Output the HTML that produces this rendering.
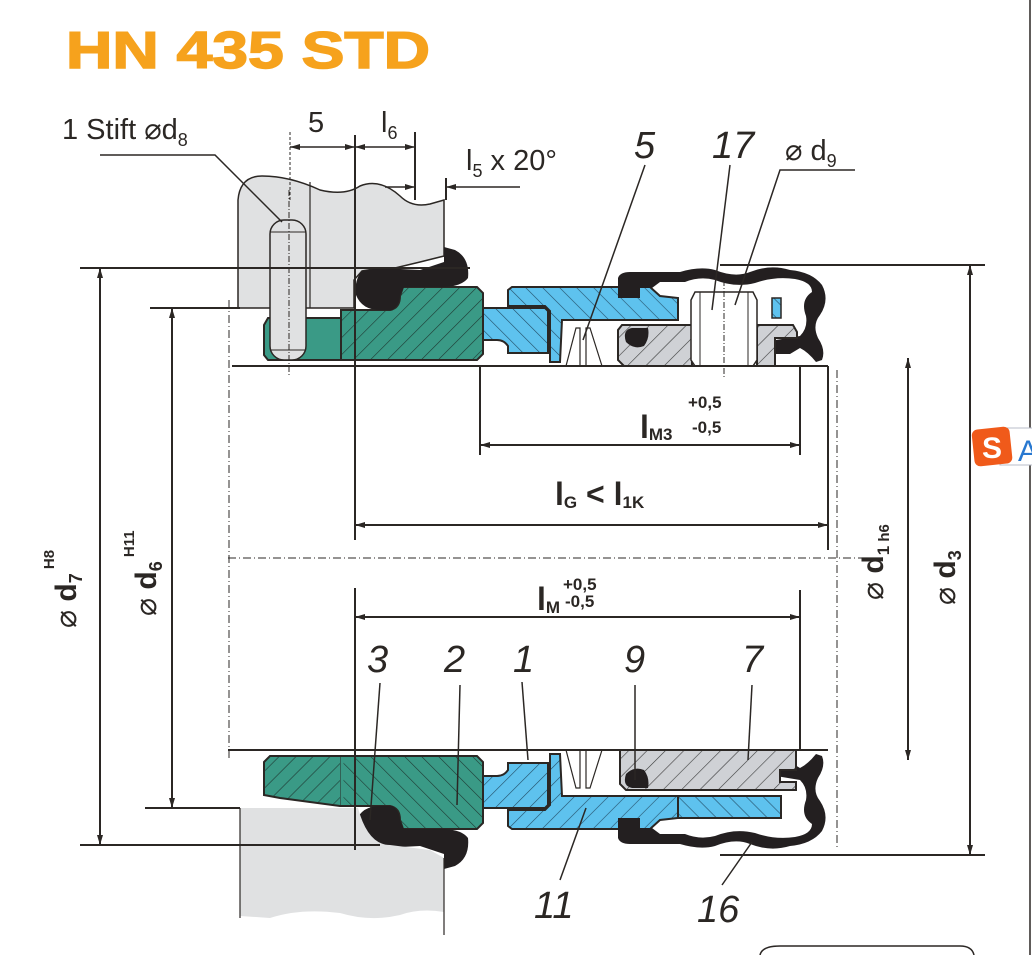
<!DOCTYPE html>
<html><head><meta charset="utf-8"><style>
html,body{margin:0;padding:0;background:#fff;}
svg{display:block;}
text{font-family:"Liberation Sans",sans-serif;fill:#2b2724;}
</style></head><body>
<svg width="1032" height="955" viewBox="0 0 1032 955" xmlns="http://www.w3.org/2000/svg">
<defs>
<pattern id="hg" patternUnits="userSpaceOnUse" width="12" height="12" patternTransform="rotate(45)">
<rect width="12" height="12" fill="#3a9a86"/><line x1="0" y1="0" x2="0" y2="12" stroke="#1f3c35" stroke-width="1.2"/></pattern>
<pattern id="hb" patternUnits="userSpaceOnUse" width="12" height="12" patternTransform="rotate(-45)">
<rect width="12" height="12" fill="#5ec2ee"/><line x1="0" y1="0" x2="0" y2="12" stroke="#24506a" stroke-width="1.2"/></pattern>
<pattern id="hs" patternUnits="userSpaceOnUse" width="13" height="13" patternTransform="rotate(45)">
<rect width="13" height="13" fill="#cfd1d5"/><line x1="0" y1="0" x2="0" y2="13" stroke="#3a3a3a" stroke-width="1.2"/></pattern>
<marker id="ar" viewBox="0 0 10 6" refX="10" refY="3" markerWidth="16" markerHeight="6" markerUnits="userSpaceOnUse" orient="auto-start-reverse"><path d="M0,0 L10,3 L0,6 z" fill="#2b2724"/></marker>
<g id="common">
<path d="M341,310 L390,310 Q400,308 400,296 L403,287 L477,287 L483,293 L483,354 L477,360 L341,360 Z" fill="url(#hg)" stroke="#2b2724" stroke-width="2"/>
<path d="M362,271 Q354,280 356,295 Q362,310 380,310 L392,310 Q400,305 400,295 L404,287 L445,287 Q462,286 468,278 Q470,258 455,250 L444,247 L444,262 L420,270 L380,268 Z" fill="#231f20"/>
<path d="M483,308 L545,308 L548,311 L548,353 L508,353 L508,346 Q504,340 497,340 L483,340 Z" fill="url(#hb)" stroke="#2b2724" stroke-width="2"/>
<path d="M508,290 L512,287 L650,287 L660,296 L678,298 L678,320 L562,320 L560,362 L550,362 L550,311 L545,306 L508,306 Z" fill="url(#hb)" stroke="#2b2724" stroke-width="2"/>
<path d="M566,366 L576,328 L580,328 L580,366 M586,366 L586,328 L590,328 L602,366" fill="none" stroke="#2b2724" stroke-width="1.2"/>
<path d="M618,278 Q620,272 630,272 L680,272 Q700,266 715,270 Q735,278 750,272 Q770,264 790,270 Q812,272 822,285 Q830,300 820,315 Q812,325 818,338 Q826,350 822,360 L816,362 Q808,352 800,348 L790,354 L776,354 L776,340 L800,336 Q808,328 806,316 Q800,300 812,292 Q812,282 795,279 Q775,276 755,283 Q735,288 715,280 Q700,276 685,282 L660,282 L652,288 L640,288 L640,298 L618,298 Z" fill="#231f20"/>
</g>
</defs>

<text x="66" y="68" font-size="52" font-weight="bold" style="fill:#f6a21d;stroke:#f6a21d;stroke-width:1.5" textLength="364" lengthAdjust="spacingAndGlyphs">HN 435 STD</text>

<path d="M238,308 L238,200 Q240,176 262,176 Q290,176 320,190 Q345,196 360,186 Q380,178 400,196 Q412,208 430,204 L444,200 L444,256 L420,262 L395,268 L380,268 L362,271 L354,280 L354,308 Z" fill="#e0e1e2" stroke="#2b2724" stroke-width="1.5"/>
<line x1="310" y1="182" x2="310" y2="308" stroke="#2b2724" stroke-width="1.2"/>

<path d="M264,325 L268,318 L341,318 L341,360 L268,360 L264,355 Z" fill="#3a9a86" stroke="#2b2724" stroke-width="2"/>
<use href="#common"/>
<rect x="270" y="220" width="36" height="140" rx="14" fill="#e0e1e2" stroke="#2b2724" stroke-width="1.5"/>
<line x1="270" y1="232" x2="306" y2="232" stroke="#2b2724" stroke-width="1"/>
<line x1="270" y1="350" x2="306" y2="350" stroke="#2b2724" stroke-width="1"/>
<line x1="289" y1="190" x2="289" y2="375" stroke="#2b2724" stroke-width="1" stroke-dasharray="6,2,1,2"/>
<rect x="772" y="298" width="9" height="20" fill="url(#hb)" stroke="#2b2724" stroke-width="1.5"/>
<path d="M622,325 L692,325 L692,366 L624,366 L618,360 L618,330 Z" fill="url(#hs)" stroke="#2b2724" stroke-width="2"/>
<path d="M757,325 L793,325 L797,332 L797,338 L775,338 L775,366 L757,366 Z" fill="url(#hs)" stroke="#2b2724" stroke-width="2"/>
<path d="M632,328 Q622,330 626,342 Q634,350 644,346 Q650,338 648,328 Z" fill="#231f20"/>
<path d="M695,292 L753,292 L757,300 L757,360 L753,366 L695,366 L691,360 L691,300 Z" fill="#fff" stroke="#2b2724" stroke-width="1.5"/>
<line x1="700" y1="292" x2="700" y2="366" stroke="#2b2724"/><line x1="748" y1="292" x2="748" y2="366" stroke="#2b2724"/>
<line x1="724" y1="280" x2="724" y2="378" stroke="#2b2724" stroke-dasharray="6,2,1,2"/>

<path d="M264,762 L270,756 L360,756 L360,806 L340,806 L280,798 L264,795 Z" fill="url(#hg)" stroke="#2b2724" stroke-width="2"/>
<path d="M560,796 L781,796 L781,818 L560,818 Z" fill="url(#hb)" stroke="#2b2724" stroke-width="2"/>
<g transform="translate(0,1116) scale(1,-1)"><use href="#common"/></g>
<line x1="342" y1="757" x2="342" y2="805" stroke="#3a9a86" stroke-width="3"/>
<path d="M620,750 L796,750 L796,770 L780,770 L780,782 L796,782 L796,790 L626,790 L620,784 Z" fill="url(#hs)" stroke="#2b2724" stroke-width="2"/>
<path d="M632,788 Q622,786 626,774 Q634,766 644,770 Q650,778 648,788 Z" fill="#231f20"/>
<path d="M240,808 L358,808 Q368,845 390,845 L430,850 L444,858 L444,912 Q420,908 400,915 Q370,922 340,913 Q300,908 270,918 L240,916 Z" fill="#e0e1e2"/>
<line x1="240" y1="808" x2="240" y2="918" stroke="#2b2724" stroke-width="1.2"/>
<line x1="444" y1="858" x2="444" y2="935" stroke="#2b2724" stroke-width="1.2"/>

<g stroke="#2b2724" stroke-width="2">
<line x1="232" y1="366" x2="828" y2="366"/>
<line x1="228" y1="750" x2="828" y2="750"/>
<line x1="80" y1="268" x2="470" y2="268"/>
<line x1="150" y1="308" x2="240" y2="308"/>
<line x1="145" y1="808" x2="240" y2="808"/>
<line x1="80" y1="845" x2="380" y2="845"/>
<line x1="720" y1="265" x2="985" y2="265"/>
<line x1="720" y1="855" x2="985" y2="855"/>
</g>
<g stroke="#2b2724" stroke-width="1" stroke-dasharray="8,3,1,3">
<line x1="228" y1="558" x2="870" y2="558"/>
<line x1="229" y1="300" x2="229" y2="760"/>
<line x1="837" y1="370" x2="837" y2="850"/>
</g>
<g stroke="#2b2724" stroke-width="2">
<line x1="355" y1="135" x2="355" y2="540"/>
<line x1="355" y1="588" x2="355" y2="850"/>
<line x1="415" y1="132" x2="415" y2="200"/>
<line x1="446" y1="178" x2="446" y2="200"/>
<line x1="480" y1="366" x2="480" y2="455"/>
<line x1="800" y1="366" x2="800" y2="455"/>
<line x1="800" y1="590" x2="800" y2="750"/>
<line x1="828" y1="366" x2="828" y2="550"/>
<line x1="1030" y1="0" x2="1030" y2="955" stroke-width="1.5"/>
</g>
<g stroke="#2b2724" stroke-width="1.5" fill="none">
<line x1="290" y1="132" x2="290" y2="200" stroke-dasharray="3,2" stroke-width="1"/>
<line x1="290" y1="147" x2="355" y2="147" marker-start="url(#ar)" marker-end="url(#ar)"/>
<line x1="355" y1="147" x2="415" y2="147" marker-start="url(#ar)" marker-end="url(#ar)"/>
<line x1="385" y1="187" x2="415" y2="187" marker-end="url(#ar)"/>
<line x1="520" y1="187" x2="446" y2="187" marker-end="url(#ar)"/>
<line x1="480" y1="445" x2="800" y2="445" stroke-width="2" marker-start="url(#ar)" marker-end="url(#ar)"/>
<line x1="355" y1="525" x2="828" y2="525" stroke-width="2" marker-start="url(#ar)" marker-end="url(#ar)"/>
<line x1="355" y1="617" x2="800" y2="617" stroke-width="2" marker-start="url(#ar)" marker-end="url(#ar)"/>
<line x1="100" y1="268" x2="100" y2="845" stroke-width="2" marker-start="url(#ar)" marker-end="url(#ar)"/>
<line x1="172" y1="308" x2="172" y2="808" stroke-width="2" marker-start="url(#ar)" marker-end="url(#ar)"/>
<line x1="908" y1="358" x2="908" y2="760" stroke-width="2" marker-start="url(#ar)" marker-end="url(#ar)"/>
<line x1="970" y1="265" x2="970" y2="855" stroke-width="2" marker-start="url(#ar)" marker-end="url(#ar)"/>
<polyline points="100,155 215,155 282,222"/>
<line x1="645" y1="165" x2="583" y2="340"/>
<line x1="730" y1="165" x2="712" y2="310"/>
<polyline points="855,170 780,170 735,305"/>
<line x1="380" y1="683" x2="370" y2="820"/>
<line x1="460" y1="685" x2="457" y2="805"/>
<line x1="522" y1="682" x2="528" y2="760"/>
<line x1="635" y1="685" x2="635" y2="780"/>
<line x1="752" y1="685" x2="748" y2="760"/>
<line x1="560" y1="880" x2="586" y2="808"/>
<line x1="722" y1="885" x2="752" y2="842"/>
</g>

<g font-size="29">
<text x="62" y="139">1 Stift ⌀d<tspan font-size="18" dy="7">8</tspan></text>
<text x="308" y="132">5</text>
<text x="381" y="132">l<tspan font-size="18" dy="7">6</tspan></text>
<text x="466" y="170">l<tspan font-size="18" dy="7">5</tspan><tspan dy="-7"> x 20°</tspan></text>
<text x="785" y="160">⌀ d<tspan font-size="18" dy="7">9</tspan></text>
</g>
<g font-size="38" font-style="italic">
<text x="634" y="158">5</text>
<text x="712" y="158">17</text>
<text x="367" y="672">3</text>
<text x="444" y="672">2</text>
<text x="513" y="672">1</text>
<text x="624" y="672">9</text>
<text x="742" y="672">7</text>
<text x="534" y="918">11</text>
<text x="697" y="922">16</text>
</g>
<g font-weight="bold">
<text x="640" y="438" font-size="32">l<tspan font-size="17" dy="2">M3</tspan></text>
<text x="688" y="408" font-size="17">+0,5</text>
<text x="692" y="433" font-size="17">-0,5</text>
<text x="555" y="505" font-size="32">l<tspan font-size="17" dy="3">G</tspan><tspan dy="-3"> &lt; l</tspan><tspan font-size="17" dy="3">1K</tspan></text>
<text x="537" y="610" font-size="32">l<tspan font-size="17" dy="3">M</tspan></text>
<text x="563" y="590" font-size="17">+0,5</text>
<text x="565" y="607" font-size="17">-0,5</text>
</g>
<g font-weight="bold">
<text transform="translate(76,628) rotate(-90)" font-size="30"><tspan font-weight="normal">⌀</tspan> d<tspan font-size="18" dy="6">7</tspan><tspan font-size="15" dy="-28"> H8</tspan></text>
<text transform="translate(156,616) rotate(-90)" font-size="30"><tspan font-weight="normal">⌀</tspan> d<tspan font-size="18" dy="6">6</tspan><tspan font-size="15" dy="-28"> H11</tspan></text>
<text transform="translate(883,600) rotate(-90)" font-size="30"><tspan font-weight="normal">⌀</tspan> d<tspan font-size="17" dy="6">1</tspan><tspan font-size="15" dy="0"> h6</tspan></text>
<text transform="translate(955,605) rotate(-90)" font-size="30"><tspan font-weight="normal">⌀</tspan> d<tspan font-size="18" dy="6">3</tspan></text>
</g>
<rect x="1000" y="428" width="40" height="37" fill="#fff" stroke="#b8bcc8"/>
<rect x="973" y="428" width="38" height="37" rx="6" fill="#f05a1a" transform="rotate(-6 992 446)"/>
<text x="982" y="458" font-size="30" font-weight="bold" style="fill:#fff">S</text>
<text x="1018" y="461" font-size="30" style="fill:#2878d0">A</text>
<path d="M760,955 Q762,946 780,946 L960,946 Q972,946 974,955" fill="none" stroke="#2b2724" stroke-width="1.5"/>
</svg>
</body></html>
